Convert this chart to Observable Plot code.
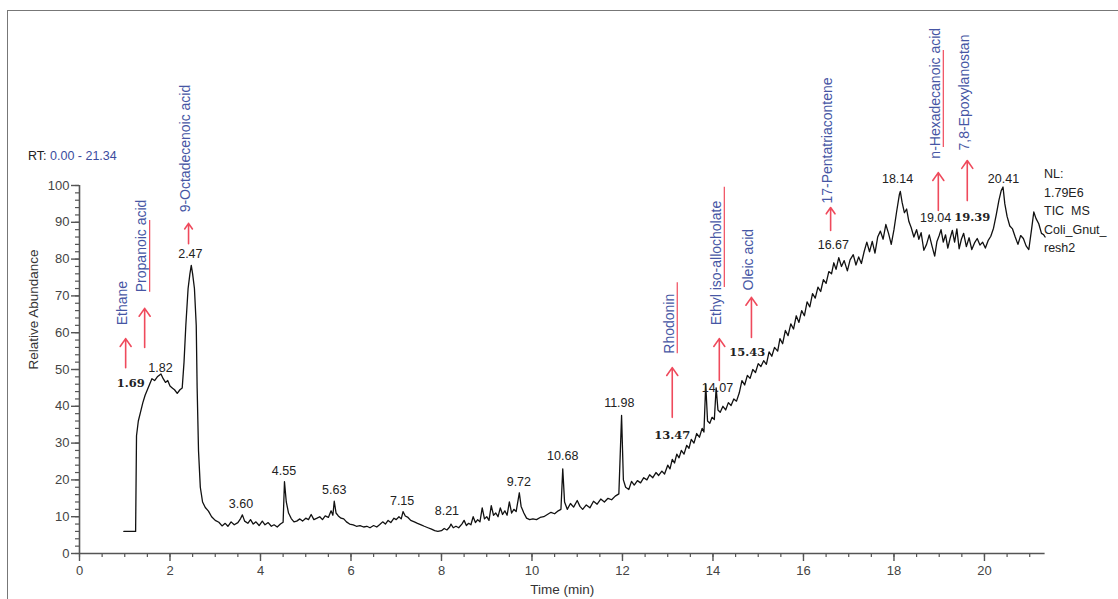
<!DOCTYPE html>
<html><head><meta charset="utf-8">
<script src="https://cdn.jsdelivr.net/npm/d3@7"></script>
<script src="https://cdn.jsdelivr.net/npm/@observablehq/plot@0.6"></script>
<style>
body{margin:0;background:#fff;}
#wrap{position:relative;width:1118px;height:599px;overflow:hidden;font-family:"Liberation Sans",Arial,sans-serif;}
#frame{position:absolute;left:7px;top:10px;width:1120px;height:600px;border-top:1.5px solid #777;border-left:1.5px solid #777;}
#chart{position:absolute;left:0;top:0;}
#rt{position:absolute;left:28px;top:149px;font-size:12.5px;color:#222;}
#rt span{color:#3b4c9e;}
#nl{position:absolute;left:1044px;top:165px;font-size:12.5px;line-height:18.5px;color:#222;white-space:pre;}
g[aria-label="compound"] text{letter-spacing:1.1px;}
</style></head><body>
<div id="wrap"><div id="frame"></div><div id="chart"></div>
<div id="rt">RT: <span>0.00 - 21.34</span></div>
<div id="nl">NL:
1.79E6
TIC  MS
Coli_Gnut_
resh2</div></div>
<script>
// retention time (min) and relative abundance (%)
const rtime = [0.98,1.24,1.26,1.3,1.35,1.4,1.45,1.5,1.55,1.6,1.66,1.72,1.8,1.85,1.9,1.95,2.0,2.05,2.1,2.16,2.22,2.27,2.31,2.35,2.4,2.44,2.47,2.5,2.54,2.58,2.6,2.63,2.67,2.72,2.78,2.85,2.92,3.0,3.08,3.15,3.22,3.28,3.35,3.42,3.5,3.56,3.6,3.65,3.72,3.78,3.84,3.9,3.97,4.04,4.1,4.17,4.24,4.3,4.37,4.44,4.5,4.53,4.57,4.62,4.68,4.74,4.8,4.87,4.93,5.0,5.06,5.12,5.18,5.25,5.31,5.37,5.43,5.5,5.56,5.6,5.63,5.67,5.72,5.78,5.84,5.9,5.97,6.05,6.12,6.2,6.28,6.35,6.42,6.5,6.57,6.63,6.7,6.76,6.82,6.88,6.95,7.0,7.06,7.11,7.15,7.2,7.26,7.32,7.4,7.47,7.55,7.62,7.7,7.78,7.85,7.92,8.0,8.06,8.12,8.18,8.21,8.26,8.32,8.38,8.45,8.5,8.55,8.6,8.65,8.7,8.75,8.8,8.85,8.9,8.95,9.0,9.05,9.1,9.15,9.2,9.25,9.3,9.35,9.4,9.45,9.5,9.55,9.6,9.65,9.72,9.76,9.82,9.88,9.95,10.02,10.1,10.18,10.26,10.34,10.42,10.5,10.58,10.64,10.68,10.72,10.78,10.85,10.92,11.0,11.06,11.12,11.2,11.28,11.36,11.44,11.52,11.6,11.68,11.76,11.84,11.92,11.98,12.02,12.07,12.14,12.2,12.26,12.33,12.4,12.47,12.54,12.6,12.67,12.74,12.8,12.87,12.93,13.0,13.05,13.1,13.15,13.2,13.25,13.3,13.36,13.42,13.47,13.52,13.58,13.64,13.7,13.76,13.8,13.84,13.88,13.93,13.98,14.03,14.07,14.11,14.16,14.22,14.28,14.34,14.4,14.46,14.52,14.58,14.64,14.7,14.76,14.82,14.88,14.94,15.0,15.06,15.12,15.18,15.24,15.3,15.36,15.43,15.48,15.54,15.6,15.66,15.72,15.78,15.84,15.9,15.96,16.02,16.08,16.14,16.2,16.26,16.32,16.38,16.44,16.5,16.56,16.62,16.67,16.72,16.78,16.84,16.9,16.97,17.03,17.1,17.16,17.22,17.28,17.34,17.4,17.46,17.52,17.58,17.64,17.7,17.76,17.82,17.88,17.94,18.0,18.06,18.12,18.14,18.18,18.23,18.28,18.33,18.38,18.44,18.5,18.55,18.6,18.66,18.72,18.78,18.84,18.9,18.95,19.0,19.04,19.09,19.14,19.19,19.24,19.29,19.34,19.39,19.44,19.49,19.54,19.6,19.66,19.72,19.78,19.84,19.9,19.96,20.02,20.08,20.14,20.2,20.26,20.32,20.37,20.41,20.45,20.5,20.56,20.62,20.68,20.74,20.8,20.86,20.92,20.98,21.04,21.09,21.14,21.2,21.26,21.31,21.34];
const abundance = [6,6,32,36,38.5,41,43,44.5,46,47.5,47,48,48.8,47.5,46.5,47,45.5,45,44.5,43.5,44.5,45,52,62,72,76,78.3,76,72,62,45,28,18,14,12.5,11.5,10,9,8.5,7.5,8.2,7.4,8.6,7.8,8.4,9.5,10.5,8.8,8.2,9.2,8,8.6,7.6,8.8,7.8,8.4,7.4,7.8,7.2,8,8.5,19.5,14,11,9.5,8.6,8.8,9.4,8.8,9.6,9.2,10.6,9.2,9.6,10,9.2,10.2,9.8,11.6,10.4,14.2,11,10.2,9.6,9.4,8.6,8,7.8,7.4,7.6,7.2,7.4,7,7.6,7.2,7.8,8.6,8,9,8.4,9.6,9.2,10,9.4,11.4,10.2,9.8,9,8.6,8.2,7.8,7.4,7,6.6,6.2,6,6.2,6.8,6.4,7.2,8,7,7.4,7,8,9,7.6,8.2,7.8,10,8.4,9.2,8.6,12.4,9.4,10,9,13,10.4,11,10,12.4,10.6,11.6,10.4,14,11,12,11.4,16.5,12.8,11,9.6,9.2,9.4,9.2,9.8,10,10.6,11.2,10.8,11.6,12,23,14,12,13.6,12.6,14.4,12.8,12,13.2,12.4,14.2,13.4,14.8,14,15,14.6,15.6,16.2,37.5,20,18,17.4,19.6,18.6,19.8,19.2,20.6,20,21.4,20.6,22,21.2,22.4,21.6,24,23,25.6,24.6,27,26,28,27,29.4,28.6,31,30,32.6,31.6,34,33,46,36,35.4,37,36.4,45,39,38.4,40,39,41,40.2,42,41.4,43.6,47,45.8,48.4,47.6,50,49.2,51.6,50.8,52.4,51.4,54.8,53.6,56,55,58.4,57,60.6,59.2,62.4,61,64.6,62.8,66,64.6,68.4,67,70.6,69.4,72.4,71.2,74.4,73.4,76.6,76,79,77.2,80.4,78,79.6,76.8,79.8,81.2,78.4,80.6,78.8,82,84.6,82,84.8,81.6,86,87.6,85.4,89.4,87,84,88,93,97.6,98.4,95.4,92.6,93.6,90.2,88.6,86,88,85.4,87.2,82.4,84,86.6,83.6,80.8,84.8,86.4,88,84.6,86.6,83,85.6,87.8,84.6,88.2,82.8,85.4,87,83.4,85.8,82.6,84.4,85.6,83.8,84.6,83,85,86.2,88.4,92,96,98.6,99.6,95,91.6,89,88.2,86,84,86.4,85.6,83.6,82.6,88,92.8,91,89.6,87,86.6,86];

// peak labels: text, time position, abundance position
const peakText = ["1.82","2.47","3.60","4.55","5.63","7.15","8.21","9.72","10.68","11.98","14.07","16.67","18.14","19.04","20.41"];
const peakX    = [1.79,2.45,3.57,4.52,5.63,7.13,8.12,9.71,10.68,11.93,14.1,16.66,18.08,18.92,20.42];
const peakY    = [50.5,81.5,13.4,22.4,17.3,14.4,11.5,19.5,26.5,41,45.1,83.7,101.9,91.3,101.9];
const boldText = ["1.69","13.47","15.43","19.39"];
const boldX    = [1.13,13.1,14.76,19.73];
const boldY    = [46.2,32,54.6,91.3];

// identified compounds
const compounds = ["Ethane","Propanoic acid","9-Octadecenoic acid","Rhodonin","Ethyl iso-allocholate","Oleic acid","17-Pentatriacontene","n-Hexadecanoic acid","7,8-Epoxylanostan"];
const compoundX  = [1.02,1.44,2.41,13.1,14.14,14.85,16.6,18.98,19.62];
const arrowFrom  = [50.5,56,84.2,37,47,58.7,87.8,93.2,95.9];
const arrowTo    = [58.4,66.6,89.7,50.5,58.4,69.6,94,103.5,106.8];
const labelBase  = [62,71,92.7,54.3,62,71.5,95.1,107.3,109.5];
const underlineFrom = [null,71,null,54.3,72.3,null,null,110.3,null];
const underlineTo   = [null,90.5,null,73.6,99.5,null,null,136.7,null];

const xMajor = d3.range(0, 21, 2);
const xMinor = d3.range(0, 21.2, 0.5);
const yMajor = d3.range(0, 101, 10);
const yMinor = d3.range(0, 101, 2);

const trace = rtime.map((t, i) => ({t, v: abundance[i]}));
const peaks = peakText.map((s, i) => ({s, x: peakX[i], y: peakY[i]}));
const bolds = boldText.map((s, i) => ({s, x: boldX[i], y: boldY[i]}));
const comps = compounds.map((name, i) => ({name, x: compoundX[i], a1: arrowFrom[i], a2: arrowTo[i], b: labelBase[i], u1: underlineFrom[i], u2: underlineTo[i]}));
const unders = comps.filter(d => d.u1 != null);

const red = "#ef4a5c";
const blue = "#4656a4";

const chart = Plot.plot({
  width: 1118, height: 599,
  marginLeft: 79, marginRight: 73.4, marginTop: 185, marginBottom: 46,
  x: {domain: [0, 21.34]},
  y: {domain: [0, 100]},
  style: {fontFamily: "Liberation Sans, Arial, sans-serif", fontSize: "13px", color: "#333", background: "transparent", overflow: "visible"},
  marks: [
    Plot.axisX(xMinor, {tickSize: 4, tickFormat: () => "", stroke: "#555", strokeWidth: 1.2, label: null}),
    Plot.axisX(xMajor, {tickSize: 8, tickPadding: 4, stroke: "#555", strokeWidth: 1.4, fill: "#444", fontSize: 13, label: null}),
    Plot.axisY(yMinor, {tickSize: 4, tickFormat: () => "", stroke: "#555", strokeWidth: 1.2, label: null}),
    Plot.axisY(yMajor, {tickSize: 8, tickPadding: 2, stroke: "#555", strokeWidth: 1.4, fill: "#444", fontSize: 13, label: null}),
    Plot.ruleY([0], {stroke: "#555", strokeWidth: 1.6}),
    Plot.ruleX([0], {y1: 0, y2: 100, stroke: "#555", strokeWidth: 1.6}),
    Plot.text(["Relative Abundance"], {frameAnchor: "left", rotate: -90, dx: -46, fontSize: 13.5, fill: "#333"}),
    Plot.text(["Time (min)"], {frameAnchor: "bottom", dy: 40, fontSize: 13.5, fill: "#333"}),
    Plot.line(trace, {x: "t", y: "v", stroke: "#111", strokeWidth: 1.3}),
    Plot.text(peaks, {x: "x", y: "y", text: "s", fontSize: 12.5, fill: "#222"}),
    Plot.text(bolds, {x: "x", y: "y", text: "s", fontSize: 11.5, fontWeight: "bold", fill: "#222", fontFamily: "DejaVu Serif, serif"}),
    Plot.arrow(comps, {x1: "x", y1: "a1", x2: "x", y2: "a2", stroke: red, strokeWidth: 1.6, headLength: 9, headAngle: 70}),
    Plot.text(comps, {x: "x", y: "b", text: "name", rotate: -90, textAnchor: "start", dx: -3, fontSize: 14, fill: blue, ariaLabel: "compound"}),
    Plot.ruleX(unders, {x: "x", y1: "u1", y2: "u2", dx: 5, stroke: red, strokeWidth: 1.2})
  ]
});
document.getElementById("chart").appendChild(chart);
</script>
</body></html>
